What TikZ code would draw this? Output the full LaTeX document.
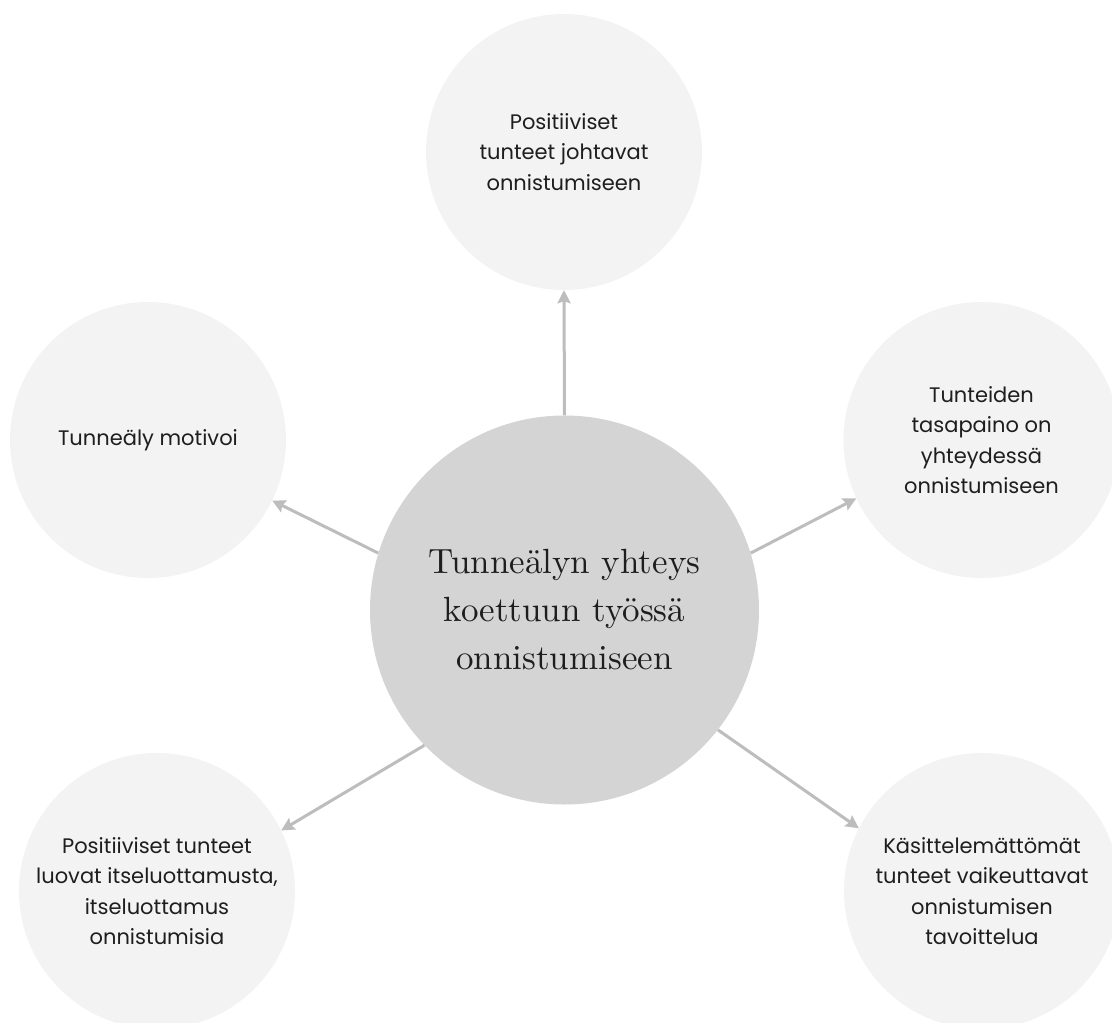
\documentclass[tikz,border=0pt]{standalone}
\usepackage{fontspec}
\newfontfamily\pop{Poppins}
\newfontfamily\ser{lmroman10-regular}[Extension=.otf]
\usetikzlibrary{arrows.meta}
\definecolor{smallfill}{HTML}{F3F3F3}
\definecolor{bigfill}{HTML}{D4D4D4}
\definecolor{arrowc}{HTML}{BDBDBD}
\definecolor{txt}{HTML}{1E1E1E}
\begin{document}
\begin{tikzpicture}[x=1pt,y=-1pt,
  smallc/.style={circle,fill=smallfill,minimum size=276pt,inner sep=0pt,align=center,
    font=\pop\fontsize{21}{30.5}\selectfont,text=txt},
  bigc/.style={circle,fill=bigfill,minimum size=389pt,inner sep=0pt,align=center,
    font=\ser\fontsize{35}{48}\selectfont,text=txt},
  arr/.style={draw=arrowc,line width=3pt,-{Stealth[length=13pt,width=13pt,inset=2pt]}}]
\fill[white] (0,0) rectangle (1112,1023);
\useasboundingbox (0,0) rectangle (1112,1023);
\node[smallc] (top) at (564,152) {Positiiviset\\tunteet johtavat\\onnistumiseen};
\node[smallc] (left) at (148,440) {Tunneäly motivoi};
\node[smallc] (right) at (981.5,440) {Tunteiden\\tasapaino on\\yhteydessä\\onnistumiseen};
\node[smallc] (bl) at (157,891) {Positiiviset tunteet\\luovat itseluottamusta,\\itseluottamus\\onnistumisia};
\node[smallc] (br) at (982,891) {Käsittelemättömät\\tunteet vaikeuttavat\\onnistumisen\\tavoittelua};
\node[bigc] (c) at (564.5,610) {Tunneälyn yhteys\\koettuun työssä\\onnistumiseen};
\draw[arr] (c.90) -- (top.270);
\draw[arr] (c.163) -- (left.-26.6);
\draw[arr] (c.17.6) -- (right.205.4);
\draw[arr] (c.224.5) -- (bl.26.2);
\draw[arr] (c.322.2) -- (br.153.4);
\end{tikzpicture}
\end{document}
